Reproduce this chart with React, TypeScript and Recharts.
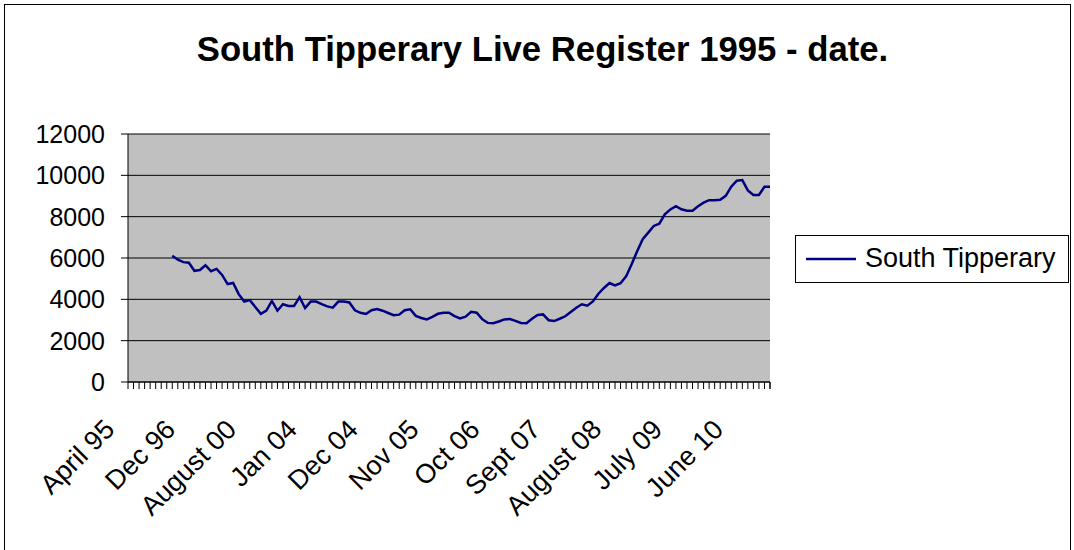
import {
  LineChart,
  Line,
  XAxis,
  YAxis,
  CartesianGrid,
} from "recharts";

// tick labels, one every 11 categories
const tickLabels = [
  "April 95",
  "Dec 96",
  "August 00",
  "Jan 04",
  "Dec 04",
  "Nov 05",
  "Oct 06",
  "Sept 07",
  "August 08",
  "July 09",
  "June 10",
];
const labelStep = 11;
const categoryCount = 117;
const seriesName = "South Tipperary";

// South Tipperary live register (first 8 categories empty)
const southTipperary: (number | null)[] = [
  null, null, null, null, null, null, null, null,
  6110, 5920, 5800, 5770, 5380, 5420, 5650, 5360, 5470, 5180,
  4740, 4790, 4250, 3890, 3960, 3630, 3300, 3450, 3920, 3450,
  3760, 3680, 3680, 4100, 3580, 3890, 3890, 3770, 3660, 3600,
  3890, 3890, 3850, 3470, 3350, 3290, 3470, 3530, 3450, 3340,
  3230, 3260, 3470, 3520, 3200, 3100, 3030, 3150, 3300, 3350,
  3350, 3190, 3080, 3160, 3400, 3350, 3040, 2860, 2840, 2930,
  3030, 3050, 2960, 2860, 2840, 3060, 3240, 3270, 2990, 2950,
  3060, 3180, 3390, 3590, 3760, 3690, 3900, 4270, 4550, 4790,
  4670, 4780, 5110, 5700, 6330, 6910, 7230, 7550, 7660, 8110,
  8350, 8510, 8360, 8290, 8290, 8500, 8680, 8800, 8800, 8820,
  9010, 9450, 9740, 9770, 9270, 9050, 9050, 9450, 9450,
];

const yTicks = [0, 2000, 4000, 6000, 8000, 10000, 12000];

const FONT = "'Liberation Sans', Arial, sans-serif";

const data = Array.from({ length: categoryCount }, (_, i) => ({
  i,
  value: southTipperary[i] ?? null,
}));

function XTick(props: any) {
  const { x, y, payload } = props;
  const idx = Number(payload.value);
  const half = payload.offset ?? 2.74;
  const top = y - 7;
  const label = idx % labelStep === 0 ? tickLabels[idx / labelStep] : null;
  const lx = x - 12;
  const ly = y + 42;
  return (
    <g>
      <line x1={x - half} x2={x - half} y1={top} y2={y} stroke="#000" />
      {idx === categoryCount - 1 && (
        <line x1={x + half} x2={x + half} y1={top} y2={y} stroke="#000" />
      )}
      {label && (
        <text
          x={lx}
          y={ly}
          textAnchor="end"
          fontSize={27}
          fontFamily={FONT}
          fill="#000"
          transform={`rotate(-45, ${lx}, ${ly})`}
        >
          {label}
        </text>
      )}
    </g>
  );
}

function LegendBox() {
  return (
    <div
      style={{
        position: "absolute",
        left: 795,
        top: 235,
        width: 272,
        height: 46,
        border: "1px solid #000",
        background: "#fff",
        fontFamily: FONT,
      }}
    >
      <svg width={60} height={46} style={{ position: "absolute", left: 0, top: 0 }}>
        <line x1={10} x2={60} y1={23} y2={23} stroke="#000080" strokeWidth={2.5} />
      </svg>
      <span
        style={{
          position: "absolute",
          left: 69,
          top: 6,
          fontSize: 27,
          lineHeight: "32px",
          color: "#000",
          whiteSpace: "nowrap",
        }}
      >
        {seriesName}
      </span>
    </div>
  );
}

export default function App() {
  return (
    <div
      style={{
        position: "absolute",
        left: 0,
        top: 0,
        width: 1074,
        height: 550,
        overflow: "hidden",
        background: "#fff",
        fontFamily: FONT,
      }}
    >
      <div
        style={{
          position: "absolute",
          left: 4,
          top: 4,
          width: 1065,
          height: 560,
          border: "1px solid #000",
        }}
      />
      <div
        style={{
          position: "absolute",
          left: 0,
          width: 1085,
          top: 29,
          textAlign: "center",
          fontSize: 34.7,
          fontWeight: "bold",
          lineHeight: "40px",
          color: "#000",
        }}
      >
        South Tipperary Live Register 1995 - date.
      </div>
      <div style={{ position: "absolute", left: 0, top: 0 }}>
        <LineChart
          width={1074}
          height={550}
          data={data}
          margin={{ top: 134, right: 304, bottom: 0, left: 28 }}
        >
          <CartesianGrid
            vertical={false}
            stroke="#000"
            fill="#C0C0C0"
            fillOpacity={1}
          />
          <XAxis
            dataKey="i"
            type="category"
            interval={0}
            height={168}
            tickSize={7}
            tickMargin={0}
            tickLine={false}
            axisLine={{ stroke: "#000" }}
            tick={<XTick />}
          />
          <YAxis
            domain={[0, 12000]}
            ticks={yTicks}
            width={100}
            tickSize={7}
            tickMargin={16}
            axisLine={{ stroke: "#000" }}
            tickLine={{ stroke: "#000" }}
            tick={{ fill: "#000", fontSize: 25, fontFamily: FONT }}
          />
          <YAxis
            yAxisId="right"
            orientation="right"
            width={0}
            domain={[0, 12000]}
            tick={false}
            tickLine={false}
            axisLine={{ stroke: "#808080", strokeWidth: 2 }}
          />
          <Line
            type="linear"
            dataKey="value"
            name={seriesName}
            stroke="#000080"
            strokeWidth={2.5}
            dot={false}
            isAnimationActive={false}
          />
        </LineChart>
      </div>
      <LegendBox />
    </div>
  );
}
